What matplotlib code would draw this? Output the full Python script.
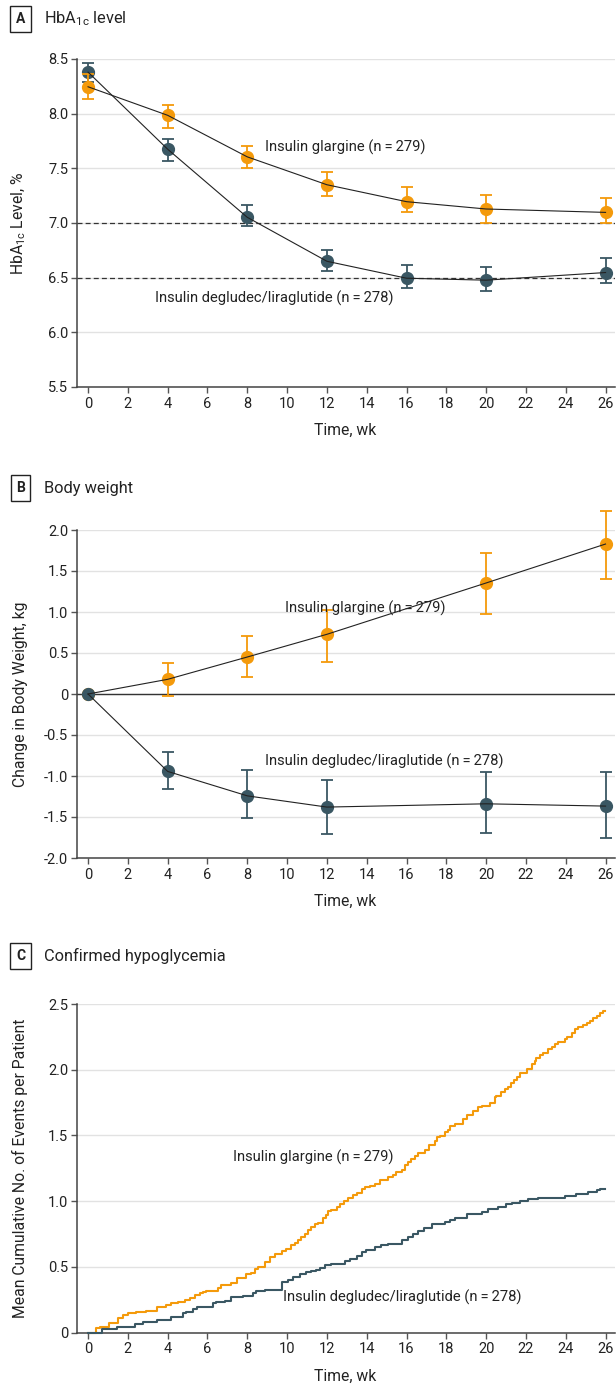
import matplotlib
matplotlib.use('Agg')
import matplotlib.pyplot as plt

plt.rcParams['font.family'] = ['Roboto', 'DejaVu Sans']
plt.rcParams['text.color'] = '#222222'
plt.rcParams['axes.labelcolor'] = '#222222'
plt.rcParams['xtick.color'] = '#555555'
plt.rcParams['ytick.color'] = '#555555'
plt.rcParams['xtick.labelcolor'] = '#222222'
plt.rcParams['ytick.labelcolor'] = '#222222'

ORANGE = '#F49A0B'
DARK = '#3A5763'

# ---------------- data ----------------
weeks_a = [0, 4, 8, 12, 16, 20, 26]
hba1c_deglira = [8.38, 7.675, 7.052, 6.650, 6.495, 6.477, 6.547]
hba1c_deglira_lo = [8.29, 7.568, 6.970, 6.559, 6.404, 6.374, 6.450]
hba1c_deglira_hi = [8.465, 7.766, 7.164, 6.751, 6.614, 6.602, 6.678]
hba1c_glar = [8.246, 7.985, 7.605, 7.350, 7.195, 7.128, 7.097]
hba1c_glar_lo = [8.131, 7.866, 7.505, 7.249, 7.103, 7.003, 7.000]
hba1c_glar_hi = [8.360, 8.076, 7.705, 7.462, 7.331, 7.252, 7.225]
hba1c_targets = [7.0, 6.5]

weeks_b = [0, 4, 8, 12, 20, 26]
wt_glar = [0, 0.179, 0.451, 0.728, 1.354, 1.829]
wt_glar_lo = [0, -0.024, 0.203, 0.394, 0.976, 1.398]
wt_glar_hi = [0, 0.382, 0.711, 1.024, 1.724, 2.236]
wt_deglira = [0, -0.944, -1.242, -1.379, -1.339, -1.367]
wt_deglira_lo = [0, -1.157, -1.508, -1.710, -1.690, -1.762]
wt_deglira_hi = [0, -0.710, -0.931, -1.044, -0.948, -0.948]

hypo_glar_t = [0, 0.39, 0.59, 1.06, 1.51, 1.76, 2.01, 2.43, 2.93, 3.47, 3.94, 4.19,
               4.52, 4.86, 5.11, 5.36, 5.61, 5.78, 5.95, 6.53, 6.70, 7.20, 7.46,
               7.79, 7.92, 8.21, 8.38, 8.54, 8.88, 9.13, 9.38, 9.72, 9.97, 10.22,
               10.39, 10.55, 10.72, 10.89, 11.05, 11.22, 11.42, 11.56, 11.78,
               11.94, 12.06, 12.23, 12.51, 12.68, 12.85, 13.07, 13.32, 13.49,
               13.74, 13.90, 14.16, 14.41, 14.66, 15.08, 15.33, 15.49, 15.75,
               15.91, 16.08, 16.25, 16.42, 16.58, 16.92, 17.12, 17.42, 17.51,
               17.67, 17.93, 18.09, 18.21, 18.43, 18.85, 19.02, 19.35, 19.60,
               19.77, 20.19, 20.44, 20.52, 20.77, 20.94, 21.11, 21.23, 21.39,
               21.53, 21.70, 22.03, 22.28, 22.45, 22.53, 22.70, 22.87, 23.12,
               23.29, 23.45, 23.62, 23.96, 24.04, 24.29, 24.46, 24.63, 24.88,
               25.05, 25.21, 25.38, 25.55, 25.72, 25.88, 25.98]
hypo_glar_v = [0, 0.033, 0.046, 0.071, 0.109, 0.135, 0.152, 0.160, 0.167, 0.193,
               0.210, 0.223, 0.231, 0.249, 0.266, 0.287, 0.300, 0.307, 0.317,
               0.338, 0.363, 0.380, 0.414, 0.419, 0.447, 0.457, 0.482, 0.503,
               0.538, 0.576, 0.596, 0.619, 0.639, 0.665, 0.685, 0.708, 0.728,
               0.753, 0.778, 0.804, 0.824, 0.834, 0.872, 0.892, 0.923, 0.930,
               0.956, 0.981, 1.001, 1.024, 1.044, 1.062, 1.095, 1.108, 1.113,
               1.133, 1.158, 1.184, 1.201, 1.222, 1.239, 1.272, 1.297, 1.318,
               1.341, 1.366, 1.393, 1.426, 1.459, 1.490, 1.495, 1.528, 1.541,
               1.571, 1.586, 1.629, 1.655, 1.688, 1.713, 1.723, 1.749, 1.789,
               1.800, 1.832, 1.850, 1.871, 1.896, 1.921, 1.947, 1.972, 2.003,
               2.043, 2.069, 2.086, 2.112, 2.129, 2.155, 2.175, 2.195, 2.213,
               2.231, 2.251, 2.282, 2.307, 2.327, 2.343, 2.358, 2.373, 2.391,
               2.409, 2.429, 2.444, 2.447]

hypo_deglira_t = [0, 0.72, 1.46, 2.35, 2.77, 3.47, 4.19, 4.78, 4.94, 5.28, 5.45,
                  6.28, 6.45, 6.87, 7.20, 7.79, 8.29, 8.46, 8.88, 9.72, 10.05,
                  10.30, 10.64, 10.97, 11.22, 11.47, 11.64, 11.89, 12.23, 12.90,
                  13.15, 13.49, 13.74, 13.99, 14.41, 14.74, 15.08, 15.75, 16.08,
                  16.33, 16.58, 16.87, 17.26, 17.93, 18.18, 18.43, 19.02, 19.77,
                  20.10, 20.61, 21.02, 21.28, 21.70, 22.11, 22.62, 23.96, 24.54,
                  25.13, 25.55, 25.72, 25.98]
hypo_deglira_v = [0, 0.025, 0.046, 0.063, 0.079, 0.100, 0.122, 0.147, 0.160,
                  0.178, 0.193, 0.223, 0.236, 0.244, 0.274, 0.279, 0.300, 0.315,
                  0.328, 0.386, 0.404, 0.424, 0.444, 0.459, 0.470, 0.480, 0.495,
                  0.513, 0.525, 0.546, 0.563, 0.584, 0.614, 0.632, 0.652, 0.665,
                  0.677, 0.708, 0.728, 0.748, 0.773, 0.800, 0.830, 0.843, 0.855,
                  0.873, 0.906, 0.919, 0.944, 0.957, 0.977, 0.990, 1.003, 1.015,
                  1.028, 1.041, 1.058, 1.071, 1.089, 1.094, 1.094]

x_ticks = list(range(0, 27, 2))
a_yticks = [5.5, 6.0, 6.5, 7.0, 7.5, 8.0, 8.5]
b_yticks = [-2.0, -1.5, -1.0, -0.5, 0, 0.5, 1.0, 1.5, 2.0]
b_yticklabels = ['-2.0', '-1.5', '-1.0', '-0.5', '0', '0.5', '1.0', '1.5', '2.0']
c_yticks = [0, 0.5, 1.0, 1.5, 2.0, 2.5]
c_yticklabels = ['0', '0.5', '1.0', '1.5', '2.0', '2.5']

lab_glar = 'Insulin glargine (n\u2009=\u2009279)'
lab_deglira = 'Insulin degludec/liraglutide (n\u2009=\u2009278)'

# ---------------- figure ----------------
W, H = 616, 1384
fig = plt.figure(figsize=(W / 100, H / 100), dpi=100)

def px(x0, y0, x1, y1):
    return [x0 / W, 1 - y1 / H, (x1 - x0) / W, (y1 - y0) / H]

XL = (-0.58, 26.45)
LEFT, RIGHT = 76.5, 614.5
TICK_FS = 10.5
LAB_FS = 11.3
ANN_FS = 10.6

def style(ax, ylim, yticks, yticklabels=None, xlabel_gap=0.11):
    ax.set_xlim(*XL)
    ax.set_ylim(*ylim)
    ax.set_xticks(x_ticks)
    ax.set_yticks(yticks)
    if yticklabels is not None:
        ax.set_yticklabels(yticklabels)
    for s in ['top', 'right']:
        ax.spines[s].set_visible(False)
    for s in ['left', 'bottom']:
        ax.spines[s].set_color('#444444')
        ax.spines[s].set_linewidth(1.1)
    ax.spines['bottom'].set_bounds(XL[0], XL[1])
    ax.tick_params(axis='both', length=4, width=1.0, labelsize=TICK_FS, pad=3)
    ax.tick_params(axis='y', pad=2)
    ax.grid(axis='y', color='#e2e2e2', lw=1.0, zorder=0)
    ax.set_axisbelow(True)
    ax.set_xlabel('Time, wk', fontsize=LAB_FS)
    ax.xaxis.set_label_coords(0.5, -xlabel_gap)
    ax.yaxis.set_label_coords(-0.090, 0.5)


def errseries(ax, x, m, lo, hi, color, z):
    yerr = [[a - b for a, b in zip(m, lo)], [b - a for a, b in zip(m, hi)]]
    eb = ax.errorbar(x, m, yerr=yerr, fmt='o', color=color, ms=8.5, mec=color,
                     elinewidth=1.3, capsize=4.2, capthick=1.3, zorder=z)
    for art in [eb[0]] + list(eb[1]) + list(eb[2]):
        art.set_clip_on(False)
    ax.plot(x, m, color='#222222', lw=0.8, zorder=z + 5, clip_on=False)


def panel_title(y, letter, title):
    fig.text(20.5 / W, 1 - y / H, letter, ha='center', va='center', fontsize=10,
             fontweight='bold',
             bbox=dict(boxstyle='square,pad=0.4', fc='white', ec='#222222', lw=1.0))
    fig.text(44 / W, 1 - y / H, title, ha='left', va='center', fontsize=11.8)

# ---- Panel A ----
axA = fig.add_axes(px(LEFT, 59, RIGHT, 387))
style(axA, (5.5, 8.5), a_yticks)
axA.set_yticklabels([f'{v:.1f}' for v in a_yticks])
for t in hba1c_targets:
    axA.axhline(t, color='#333333', lw=0.9, ls=(0, (4, 2.5)), zorder=1)
errseries(axA, weeks_a, hba1c_deglira, hba1c_deglira_lo, hba1c_deglira_hi, DARK, 3)
errseries(axA, weeks_a, hba1c_glar, hba1c_glar_lo, hba1c_glar_hi, ORANGE, 4)
axA.set_ylabel('HbA$_{\\mathregular{1c}}$ Level, %', fontsize=LAB_FS)
axA.text(8.88, 7.695, lab_glar, fontsize=ANN_FS, va='center', ha='left')
axA.text(3.35, 6.315, lab_deglira, fontsize=ANN_FS, va='center', ha='left')
panel_title(19, 'A', 'HbA$_{\\mathregular{1c}}$ level')

# ---- Panel B ----
axB = fig.add_axes(px(LEFT, 530, RIGHT, 858))
style(axB, (-2.0, 2.0), b_yticks, b_yticklabels)
axB.axhline(0, color='#333333', lw=1.0, zorder=1)
errseries(axB, weeks_b, wt_glar, wt_glar_lo, wt_glar_hi, ORANGE, 3)
errseries(axB, weeks_b, wt_deglira, wt_deglira_lo, wt_deglira_hi, DARK, 4)
axB.set_ylabel('Change in Body Weight, kg', fontsize=LAB_FS)
axB.text(9.9, 1.04, lab_glar, fontsize=ANN_FS, va='center', ha='left')
axB.text(8.87, -0.817, lab_deglira, fontsize=ANN_FS, va='center', ha='left')
panel_title(488, 'B', 'Body weight')

# ---- Panel C ----
axC = fig.add_axes(px(LEFT, 1004, RIGHT, 1332.7))
style(axC, (0, 2.5), c_yticks, c_yticklabels)
axC.plot(hypo_glar_t, hypo_glar_v, drawstyle='steps-post', color=ORANGE, lw=1.5,
         zorder=3, clip_on=False)
axC.plot(hypo_deglira_t, hypo_deglira_v, drawstyle='steps-post', color=DARK, lw=1.5,
         zorder=4, clip_on=False)
axC.set_ylabel('Mean Cumulative No. of Events per Patient', fontsize=LAB_FS)
axC.text(7.27, 1.337, lab_glar, fontsize=ANN_FS, va='center', ha='left')
axC.text(9.78, 0.272, lab_deglira, fontsize=ANN_FS, va='center', ha='left')
panel_title(956, 'C', 'Confirmed hypoglycemia')

fig.savefig('out.png', dpi=100)
